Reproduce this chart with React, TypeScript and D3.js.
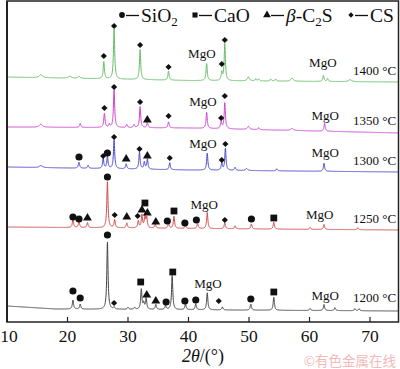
import React from 'react';
import * as d3 from 'd3';

// 2θ axis
const xDomain = [10, 75];
const xTicks = [10, 20, 30, 40, 50, 60, 70];

// temperatures, top to bottom
const temps = ['1400 °C', '1350 °C', '1300 °C', '1250 °C', '1200 °C'];
const colors = ['#66bb66', '#cc44cc', '#4848c8', '#d04848', '#444444'];

// background level [2θ, intensity a.u.]
const base1400 = [[10, 245], [40, 241.5], [75, 240]];
const base1350 = [[10, 195], [40, 194], [75, 189]];
const base1300 = [[10, 155], [40, 152], [75, 150]];
const base1250 = [[10, 95], [40, 93.5], [75, 92]];
const base1200 = [[10, 16], [18, 13], [75, 11]];

// reflections [2θ, height above background, half width]
const peaks1400 = [[15.6, 3, 0.3], [20.4, 2, 0.3], [21.9, 2, 0.2], [26.0, 17], [27.7, 50], [32.0, 30], [36.7, 9],
  [43.0, 17], [45.5, 8], [46.0, 37], [49.9, 4, 0.2], [51.1, 2], [51.6, 2], [53.6, 2], [54.4, 2], [57.1, 3, 0.25],
  [62.3, 6], [63.0, 3], [66.7, 2, 0.3]];
const peaks1350 = [[15.6, 3, 0.3], [22.1, 4], [26.1, 14], [26.9, 3], [27.7, 38], [29.8, 3], [31.0, 3], [32.0, 21],
  [33.2, 5], [36.7, 6], [43.0, 16], [45.4, 7], [46.0, 26], [49.9, 3, 0.2], [51.6, 2], [57.1, 2, 0.25], [62.5, 8]];
const peaks1300 = [[15.6, 2, 0.3], [21.9, 6], [23.4, 3], [25.9, 10], [26.6, 12], [27.7, 29], [29.7, 5], [31.9, 17],
  [32.7, 7], [33.2, 10], [36.9, 7], [43.1, 17], [45.5, 7], [46.1, 22], [47.7, 3], [49.6, 2, 0.2], [54.6, 2], [62.4, 8]];
const peaks1250 = [[20.9, 8], [21.9, 6], [23.3, 5], [26.6, 46], [27.8, 8], [29.8, 5], [31.7, 7], [32.3, 13],
  [32.8, 12], [33.1, 10], [34.5, 4], [36.7, 5], [37.6, 12], [39.5, 3], [41.5, 5], [43.1, 16], [46.0, 6], [47.7, 3],
  [50.4, 5], [54.1, 7], [60.1, 2], [62.4, 5], [68.0, 2]];
const peaks1200 = [[20.9, 9], [22.1, 5], [26.6, 67], [27.7, 2], [30.0, 2], [31.1, 2], [32.2, 20], [32.6, 6], [33.0, 11],
  [34.6, 5], [36.2, 4], [37.3, 34], [39.5, 6], [41.2, 6], [43.1, 17], [45.6, 3], [50.3, 6], [54.1, 13], [60.1, 2],
  [62.4, 6], [64.2, 3], [67.5, 2], [68.2, 2]];

// phase markers [phase, 2θ, intensity]
const marks1400 = [['CS', 26.0, 266], ['CS', 27.7, 296], ['CS', 32.0, 277], ['CS', 36.7, 255], ['CS', 45.5, 258], ['CS', 46.0, 282]];
const marks1350 = [['CS', 26.1, 214], ['CS', 27.7, 235], ['CS', 32.0, 220], ['C2S', 33.2, 202], ['CS', 36.7, 206],
  ['CS', 45.4, 204], ['CS', 46.0, 226]];
const marks1300 = [['SiO2', 21.9, 165], ['CS', 25.9, 166], ['SiO2', 26.6, 169], ['CS', 27.7, 185], ['C2S', 29.7, 163],
  ['CS', 31.9, 173], ['C2S', 33.2, 166], ['CS', 36.9, 164], ['CS', 45.5, 162], ['CS', 46.1, 178]];
const marks1250 = [['SiO2', 20.9, 105], ['SiO2', 21.9, 103], ['C2S', 23.3, 104], ['SiO2', 26.6, 145], ['CS', 27.8, 107],
  ['C2S', 29.8, 105], ['CS', 31.6, 106], ['C2S', 32.3, 112], ['CaO', 32.8, 119], ['C2S', 33.2, 109], ['C2S', 34.6, 100],
  ['SiO2', 36.5, 101], ['CaO', 37.6, 111], ['SiO2', 39.4, 99], ['SiO2', 41.3, 102], ['CS', 46.0, 102], ['SiO2', 50.4, 103],
  ['CaO', 54.1, 104]];
const marks1200 = [['SiO2', 20.9, 31], ['SiO2', 22.1, 24], ['SiO2', 26.6, 87], ['CS', 27.7, 19], ['CaO', 32.1, 40],
  ['C2S', 33.1, 27], ['C2S', 34.6, 21], ['SiO2', 36.3, 20], ['CaO', 37.4, 50], ['SiO2', 39.4, 21], ['SiO2', 41.2, 22],
  ['CS', 45.0, 21], ['SiO2', 50.3, 23], ['CaO', 54.1, 30]];

// MgO labels [2θ, intensity] and temperature label [2θ, intensity]
const mgo1400 = [[42.2, 264], [62.2, 255]];
const mgo1350 = [[42.4, 216], [62.6, 202]];
const mgo1300 = [[42.4, 174], [62.6, 165]];
const mgo1250 = [[42.6, 113], [61.7, 103]];
const mgo1200 = [[43.2, 34], [62.6, 22]];
const tempPos = [[67.2, 247], [67.2, 197], [67.2, 157], [67.2, 99], [67.2, 20]];

const bases = [base1400, base1350, base1300, base1250, base1200];
const peaks = [peaks1400, peaks1350, peaks1300, peaks1250, peaks1200];
const marks = [marks1400, marks1350, marks1300, marks1250, marks1200];
const mgos = [mgo1400, mgo1350, mgo1300, mgo1250, mgo1200];

const W = 400, H = 369;
const left = 7, right = 398.5, top = 1, bottom = 322;
const serif = '"Liberation Serif", "Times New Roman", serif';

const x = d3.scaleLinear().domain(xDomain).range([7, 400.25]);
const y = d3.scaleLinear().domain([0, 322]).range([322, 0]);

const symbolOf: any = {
  SiO2: d3.symbol(d3.symbolCircle, 40)(),
  CaO: d3.symbol(d3.symbolSquare, 46)(),
  C2S: d3.symbol(d3.symbolTriangle, 34)(),
  CS: d3.symbol(d3.symbolSquare, 19)(),
};

function profile(base: number[][], pk: number[][]) {
  const bg = d3.scaleLinear().domain(base.map(d => d[0])).range(base.map(d => d[1]));
  return d3.range(xDomain[0], xDomain[1] + 0.001, 0.02).map(t => {
    let v = bg(t);
    pk.forEach(p => {
      const w = p[2] || 0.12;
      const u = (t - p[0]) / w;
      v += p[1] / (1 + u * u);
    });
    return [t, v];
  });
}

const line = d3.line<number[]>().x(d => x(d[0])).y(d => y(d[1]));

const Mark = ({ phase, cx, cy }: any) => (
  <path d={symbolOf[phase]} transform={`translate(${cx},${cy})${phase === 'CS' ? ' rotate(45)' : ''}`} fill="#111" />
);

export default function App() {
  const legend = [
    { phase: 'SiO2', mx: 122 },
    { phase: 'CaO', mx: 195 },
    { phase: 'C2S', mx: 267 },
    { phase: 'CS', mx: 351 },
  ];
  return (
    <svg width={W} height={H} style={{ position: 'absolute', left: 0, top: 0, background: '#fff' }}>
      <defs>
        <clipPath id="plot"><rect x={left} y={top} width={right - left} height={bottom - top} /></clipPath>
      </defs>
      <g clipPath="url(#plot)">
        {temps.map((t, i) => (
          <path key={t} d={line(profile(bases[i], peaks[i])) || ''} fill="none" stroke={colors[i]} strokeWidth={1} />
        ))}
      </g>
      {marks.map((ms, i) => ms.map((m: any, j) => (
        <Mark key={i + '-' + j} phase={m[0]} cx={x(m[1])} cy={y(m[2])} />
      )))}
      <g fontFamily={serif} fontSize={13} fill="#111">
        {mgos.map((ls, i) => ls.map((l, j) => (
          <text key={i + 'm' + j} x={x(l[0])} y={y(l[1])} textAnchor="middle">MgO</text>
        )))}
        {temps.map((t, i) => (
          <text key={t} x={x(tempPos[i][0])} y={y(tempPos[i][1])}>{t}</text>
        ))}
      </g>
      {/* legend */}
      <g fontFamily={serif} fontSize={19.5} fill="#111">
        {legend.map(l => (
          <g key={l.phase}>
            <path d={d3.symbol(l.phase === 'C2S' ? d3.symbolTriangle : l.phase === 'SiO2' ? d3.symbolCircle : d3.symbolSquare,
              l.phase === 'CS' ? 14 : 26)() || ''}
              transform={`translate(${l.mx},15)${l.phase === 'CS' ? ' rotate(45)' : ''}`} fill="#111" />
            <line x1={l.mx + 4} x2={l.mx + 17} y1={15.5} y2={15.5} stroke="#111" strokeWidth={1.3} />
          </g>
        ))}
        <text x={141} y={22}>SiO<tspan fontSize={13} dy={4}>2</tspan></text>
        <text x={214} y={22}>CaO</text>
        <text x={286} y={22}><tspan fontStyle="italic">β</tspan>-C<tspan fontSize={13} dy={4}>2</tspan><tspan dy={-4}>S</tspan></text>
        <text x={370} y={22}>CS</text>
      </g>
      {/* frame */}
      <rect x={left} y={top} width={right - left} height={bottom - top} fill="none" stroke="#222" strokeWidth={1.5} />
      <line x1={left} x2={left} y1={top} y2={bottom} stroke="#222" strokeWidth={2} />
      {xTicks.map(t => (
        <g key={t}>
          <line x1={x(t)} x2={x(t)} y1={bottom} y2={bottom - 5} stroke="#222" strokeWidth={1.2} />
          <text x={x(t) + (t === 10 ? 2 : 0)} y={bottom + 20} textAnchor="middle" fontFamily={serif} fontSize={17.5} fill="#111">{t}</text>
        </g>
      ))}
      <text x={203} y={362} textAnchor="middle" fontFamily={serif} fontSize={18} fill="#111">
        <tspan fontStyle="italic">2θ</tspan>/(°)
      </text>
      <text x={396} y={366} textAnchor="end" fontFamily='"Noto Sans CJK SC", sans-serif' fontSize={13.5} fill="#f4baba">©有色金属在线</text>
    </svg>
  );
}
